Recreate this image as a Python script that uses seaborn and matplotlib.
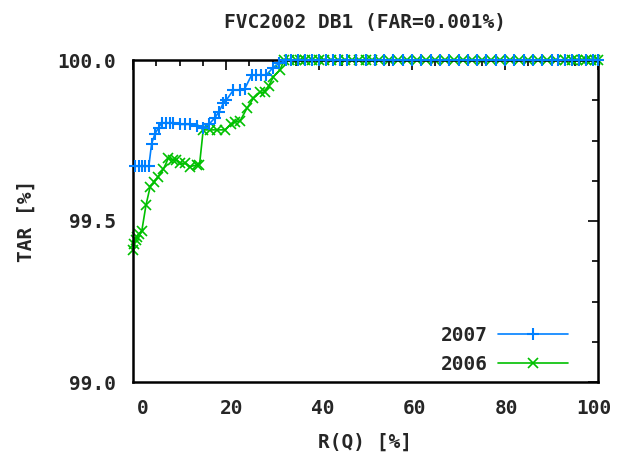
import numpy as np
import pandas as pd
import matplotlib
matplotlib.use("Agg")
import matplotlib.pyplot as plt
import matplotlib.transforms as mtransforms
from matplotlib.ticker import MultipleLocator
import seaborn as sns

title = "FVC2002 DB1 (FAR=0.001%)"
xlabel = "R(Q) [%]"
ylabel = "TAR [%]"

rq_2007 = [0.5, 1.2, 1.9, 2.6, 3.4, 4.0, 4.7, 5.5, 6.2, 7.0, 8.0, 8.7, 10.0, 11.2,
           12.3, 13.7, 15.1, 16.3, 17.6, 18.5, 19.4, 20.1, 21.6, 23.0, 24.0, 25.5,
           26.5, 27.6, 28.7, 30.0, 31.5, 33.0, 34.0, 35.5, 37.0, 38.5, 40.0, 41.5,
           43.0, 44.5, 46.0, 48.0, 50.0, 52.0, 54.0, 56.0, 58.0, 60.0, 62.0, 64.0,
           66.0, 68.0, 70.0, 72.0, 74.0, 76.0, 78.0, 80.0, 82.0, 84.0, 86.0, 88.0,
           90.0, 91.5, 93.0, 94.5, 96.0, 97.5, 99.0, 100.0]
tar_2007 = [99.67, 99.67, 99.67, 99.67, 99.67, 99.74, 99.77, 99.79, 99.805, 99.805,
            99.805, 99.805, 99.80, 99.80, 99.80, 99.795, 99.79, 99.80, 99.82, 99.84,
            99.865, 99.876, 99.907, 99.907, 99.91, 99.953, 99.953, 99.953, 99.953,
            99.975, 99.99, 100.0, 100.0, 100.0, 100.0, 100.0, 100.0, 100.0, 100.0,
            100.0, 100.0, 100.0, 100.0, 100.0, 100.0, 100.0, 100.0, 100.0, 100.0,
            100.0, 100.0, 100.0, 100.0, 100.0, 100.0, 100.0, 100.0, 100.0, 100.0,
            100.0, 100.0, 100.0, 100.0, 100.0, 100.0, 100.0, 100.0, 100.0, 100.0,
            100.0]

rq_2006 = [0.0, 0.3, 0.6, 0.9, 1.3, 1.9, 2.8, 3.7, 4.5, 5.4, 6.5, 7.6, 8.5, 9.3,
           10.2, 11.2, 12.3, 13.7, 14.3, 15.1, 16.5, 18.0, 19.8, 21.0, 21.9, 23.0,
           24.5, 25.9, 27.3, 28.3, 29.2, 30.2, 31.6, 32.5, 33.5, 35.0, 36.0, 37.0,
           38.5, 40.0, 41.0, 42.5, 44.0, 45.5, 47.0, 48.5, 50.0, 51.5, 53.0, 55.0,
           57.0, 59.0, 61.0, 63.0, 65.0, 67.0, 69.0, 71.0, 73.0, 75.0, 77.0, 79.0,
           81.0, 83.0, 85.0, 87.0, 89.0, 91.0, 93.0, 94.5, 95.5, 96.5, 97.5, 98.5,
           99.3, 100.0]
tar_2006 = [99.41, 99.43, 99.44, 99.45, 99.46, 99.47, 99.55, 99.607, 99.62, 99.638,
            99.66, 99.695, 99.69, 99.69, 99.68, 99.679, 99.669, 99.674, 99.674,
            99.783, 99.783, 99.783, 99.783, 99.80, 99.808, 99.81, 99.85, 99.881,
            99.90, 99.90, 99.92, 99.948, 99.969, 100.0, 100.0, 100.0, 100.0, 100.0,
            100.0, 100.0, 100.0, 100.0, 100.0, 100.0, 100.0, 100.0, 100.0, 100.0,
            100.0, 100.0, 100.0, 100.0, 100.0, 100.0, 100.0, 100.0, 100.0, 100.0,
            100.0, 100.0, 100.0, 100.0, 100.0, 100.0, 100.0, 100.0, 100.0, 100.0,
            100.0, 100.0, 100.0, 100.0, 100.0, 100.0, 100.0, 100.0]

xticks = [0, 20, 40, 60, 80, 100]
yticks = [99.0, 99.5, 100.0]
ytick_labels = ["99.0", "99.5", "100.0"]

sns.set_style("white")
plt.rcParams["font.family"] = ["DejaVu Sans Mono", "DejaVu Sans"]
plt.rcParams["font.weight"] = "bold"

fig = plt.figure(figsize=(6.17, 4.63), dpi=100)
ax = fig.add_axes([133 / 617, 1 - 382 / 463, (598 - 133) / 617, (382 - 60) / 463])

df07 = pd.DataFrame({"x": rq_2007, "y": tar_2007})
df06 = pd.DataFrame({"x": rq_2006, "y": tar_2006})

blue = "#0080ff"
green = "#00c000"

sns.lineplot(data=df07, x="x", y="y", ax=ax, color=blue, marker="+",
             markersize=9, markeredgewidth=1.5, markeredgecolor=blue,
             linewidth=1.2, estimator=None, sort=False, label="2007",
             clip_on=False, zorder=3)
sns.lineplot(data=df06, x="x", y="y", ax=ax, color=green, marker="x",
             markersize=7.5, markeredgewidth=1.2, markeredgecolor=green,
             linewidth=1.2, estimator=None, sort=False, label="2006",
             clip_on=False, zorder=2)

ax.set_xlim(0, 100)
ax.set_ylim(99.0, 100.0)
ax.set_xticks(xticks)
ax.set_xticklabels([str(t) for t in xticks])
ax.set_yticks(yticks)
ax.set_yticklabels(ytick_labels)
ax.xaxis.set_minor_locator(MultipleLocator(5))
ax.yaxis.set_minor_locator(MultipleLocator(0.125))
ax.tick_params(which="both", direction="in", top=True, right=True, color="black",
               width=1.2, labelsize=14)
ax.tick_params(which="major", length=7)
ax.tick_params(which="minor", length=4)
ax.tick_params(axis="x", pad=12)
ax.tick_params(axis="y", pad=12)

label_shift_px = [10, 6, 4, 3, 1, -4]
for lbl, dx in zip(ax.get_xticklabels(), label_shift_px):
    lbl.set_transform(lbl.get_transform() + mtransforms.ScaledTranslation(dx / 100, 0, fig.dpi_scale_trans))

for sp in ax.spines.values():
    sp.set_color("black")
    sp.set_linewidth(1.8)
    sp.set_visible(True)

ax.set_xlabel(xlabel, fontsize=14, fontweight="bold", labelpad=11)
ax.set_ylabel(ylabel, fontsize=14, fontweight="bold", labelpad=16)
ax.set_title(title, fontsize=14, fontweight="bold", pad=23)

leg = ax.legend(loc="lower right", bbox_to_anchor=(0.952, 0.0), frameon=False,
                markerfirst=False, fontsize=14, handlelength=3.6, handletextpad=0.5,
                labelspacing=0.55, borderaxespad=0.0, numpoints=1)
for t in leg.get_texts():
    t.set_fontweight("bold")

fig.savefig("out.png", dpi=100)
